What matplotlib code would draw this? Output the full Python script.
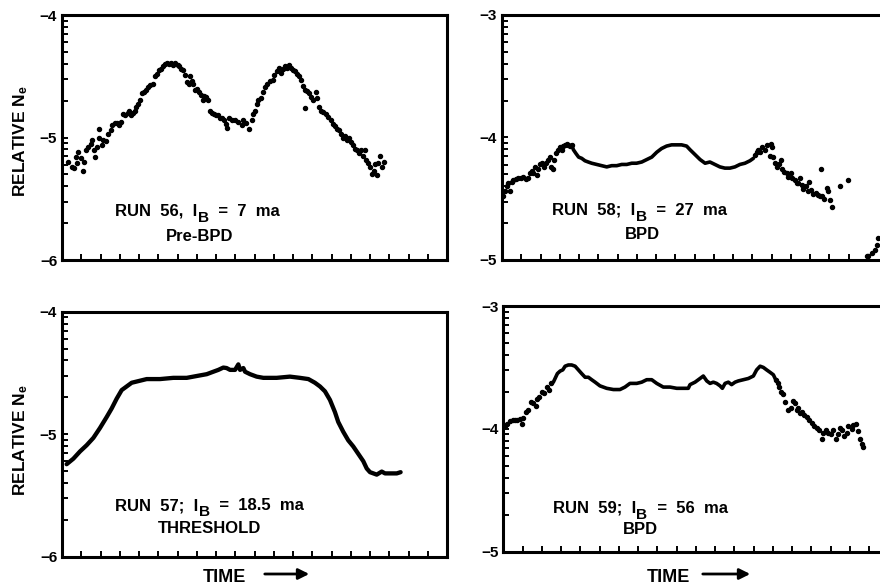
import numpy as np
import matplotlib
matplotlib.use("Agg")
import matplotlib.pyplot as plt

plt.rcParams['font.family'] = ['Liberation Sans', 'DejaVu Sans']
plt.rcParams['font.weight'] = 'bold'
plt.rcParams['mathtext.fontset'] = 'custom'
plt.rcParams['mathtext.rm'] = 'Liberation Sans:bold'
plt.rcParams['mathtext.it'] = 'Liberation Sans:bold'
plt.rcParams['mathtext.bf'] = 'Liberation Sans:bold'

# ---------------- data (log10 of relative Ne vs. time units) ----------------
run56_x = [0.33, 0.51, 0.63, 0.77, 0.71, 0.85, 0.97, 1.08, 1.15, 1.25, 1.37, 1.49, 1.58, 1.67, 1.72,
           1.84, 1.91, 1.94, 2.06, 2.15, 2.29, 2.41, 2.53, 2.62, 2.76, 2.88, 2.98, 3.07, 3.19, 3.29,
           3.42, 3.50, 3.57, 3.67, 3.78, 3.85, 3.95, 4.06, 4.16, 4.26, 4.37, 4.47, 4.58, 4.71, 4.85,
           4.96, 5.06, 5.16, 5.27, 5.37, 5.48, 5.58, 5.68, 5.79, 5.89, 6.00, 6.10, 6.20, 6.31, 6.41,
           6.48, 6.58, 6.65, 6.76, 6.83, 6.91, 7.03, 7.14, 7.24, 7.31, 7.38, 7.48, 7.59, 7.69, 7.80,
           7.90, 8.00, 8.11, 8.21, 8.32, 8.42, 8.52, 8.56, 8.66, 8.83, 8.99, 9.16, 9.33, 9.42, 9.56,
           9.73, 9.85, 9.94, 10.03, 10.11, 10.20, 10.32, 10.42, 10.55, 10.67, 10.81, 10.94, 11.01,
           11.15, 11.26, 11.36, 11.46, 11.58, 11.71, 11.81, 11.91, 12.02, 12.12, 12.22, 12.33, 12.40,
           12.50, 12.61, 12.71, 12.81, 12.61, 12.92, 13.02, 13.19, 13.26, 13.37, 13.47, 13.58, 13.71,
           13.84, 13.96, 14.06, 14.16, 14.27, 14.37, 14.48, 14.58, 14.68, 14.79, 14.89, 15.00, 15.10,
           15.20, 15.31, 15.41, 15.51, 15.62, 15.72, 15.79, 15.90, 16.00, 16.09, 16.21, 16.28, 16.35,
           16.43, 16.52, 16.61, 16.73]
run56_y = [-5.20, -5.24, -5.25, -5.21, -5.16, -5.12, -5.17, -5.27, -5.20, -5.10, -5.08, -5.05, -5.02, -5.10, -5.16,
           -5.08, -4.93, -5.00, -5.06, -5.02, -5.03, -4.97, -4.94, -4.90, -4.88, -4.88, -4.90, -4.87, -4.81, -4.82,
           -4.80, -4.78, -4.82, -4.80, -4.78, -4.75, -4.73, -4.69, -4.64, -4.63, -4.61, -4.59, -4.57, -4.56, -4.50,
           -4.48, -4.45, -4.44, -4.42, -4.40, -4.39, -4.40, -4.39, -4.41, -4.39, -4.41, -4.42, -4.44, -4.45, -4.49,
           -4.55, -4.56, -4.50, -4.54, -4.56, -4.61, -4.60, -4.63, -4.65, -4.69, -4.66, -4.67, -4.69, -4.78, -4.80,
           -4.81, -4.82, -4.82, -4.84, -4.84, -4.86, -4.89, -4.92, -4.84, -4.86, -4.86, -4.87, -4.90, -4.86, -4.88,
           -4.93, -4.86, -4.81, -4.78, -4.73, -4.69, -4.68, -4.63, -4.59, -4.56, -4.54, -4.53, -4.49,
           -4.46, -4.43, -4.47, -4.44, -4.42, -4.43, -4.41, -4.43, -4.45, -4.46, -4.48, -4.50, -4.53,
           -4.58, -4.61, -4.62, -4.64, -4.76, -4.67, -4.69, -4.63, -4.68, -4.75, -4.78, -4.79, -4.81,
           -4.83, -4.86, -4.89, -4.91, -4.93, -4.94, -4.97, -5.00, -4.99, -5.02, -5.00, -5.04, -5.06,
           -5.09, -5.10, -5.13, -5.10, -5.15, -5.10, -5.18, -5.21, -5.24, -5.30, -5.27, -5.22, -5.31,
           -5.21, -5.15, -5.24, -5.20]

run58_scatter_x = [0.07, 0.16, 0.24, 0.33, 0.42, 0.50, 0.59, 0.73, 0.85, 0.97, 1.11, 1.25, 1.37, 1.45, 1.54,
                   1.63, 1.71, 1.80, 1.89, 1.97, 2.06, 2.18, 2.29, 2.41, 2.49, 2.53, 2.63, 2.70, 2.81, 2.93,
                   3.01, 3.10, 3.19, 3.27, 3.36, 3.45, 3.53, 3.62,
                   13.14, 13.23, 13.32, 13.40, 13.52, 13.66, 13.75, 13.97, 14.04, 13.92, 14.09, 14.18, 14.27,
                   14.39, 14.49, 14.56, 14.67, 14.79, 14.87, 15.01, 15.08, 15.22, 15.31, 15.39, 15.48, 15.57,
                   15.65, 15.77, 15.88, 15.95, 16.05, 16.17, 16.29, 16.40, 16.52, 16.57, 16.64, 16.74, 16.86,
                   16.95, 17.04, 17.13, 17.56, 17.99, 18.94, 19.03, 19.20, 19.38, 19.46, 19.51]
run58_scatter_y = [-4.48, -4.44, -4.40, -4.37, -4.44, -4.36, -4.35, -4.34, -4.33, -4.33, -4.32, -4.34, -4.33, -4.29, -4.27,
                   -4.29, -4.24, -4.31, -4.26, -4.22, -4.21, -4.24, -4.21, -4.18, -4.16, -4.24, -4.26, -4.18, -4.13, -4.10,
                   -4.08, -4.10, -4.07, -4.06, -4.05, -4.06, -4.07, -4.06,
                   -4.14, -4.12, -4.10, -4.12, -4.08, -4.10, -4.06, -4.05, -4.08, -4.15, -4.16, -4.21, -4.24,
                   -4.22, -4.18, -4.26, -4.28, -4.29, -4.32, -4.29, -4.33, -4.35, -4.37, -4.37, -4.33, -4.39,
                   -4.42, -4.40, -4.44, -4.36, -4.43, -4.46, -4.45, -4.47, -4.48, -4.26, -4.48, -4.50, -4.41,
                   -4.44, -4.51, -4.57, -4.40, -4.35, -4.97, -4.97, -4.94, -4.92, -4.88, -4.82]
run58_trace_x = [3.62, 3.71, 3.84, 3.98, 4.14, 4.31, 4.48, 4.66, 4.92, 5.18, 5.44, 5.70, 5.96, 6.22, 6.48,
                 6.74, 6.99, 7.26, 7.52, 7.78, 8.04, 8.29, 8.55, 8.81, 9.07, 9.33, 9.59, 9.77, 10.03, 10.29,
                 10.55, 10.80, 11.06, 11.32, 11.58, 11.84, 12.10, 12.36, 12.62, 12.88, 13.06]
run58_trace_y = [-4.06, -4.10, -4.13, -4.16, -4.17, -4.19, -4.20, -4.21, -4.22, -4.23, -4.24, -4.23, -4.23, -4.22, -4.22,
                 -4.21, -4.21, -4.20, -4.18, -4.16, -4.12, -4.09, -4.07, -4.06, -4.06, -4.06, -4.07, -4.10, -4.14, -4.18,
                 -4.21, -4.20, -4.22, -4.24, -4.25, -4.25, -4.24, -4.22, -4.21, -4.19, -4.17]

run57_x = [0.24, 0.59, 0.94, 1.28, 1.63, 1.97, 2.32, 2.58, 2.84, 3.10, 3.36, 3.62, 3.88, 4.40, 5.09,
           5.78, 6.48, 7.17, 7.52, 7.86, 8.12, 8.38, 8.55, 8.73, 8.99, 9.16, 9.25, 9.42, 9.51, 9.77,
           10.11, 10.46, 11.15, 11.84, 12.36, 12.80, 13.14, 13.40, 13.66, 13.92, 14.18, 14.35, 14.61,
           14.87, 15.13, 15.39, 15.65, 15.83, 16.00, 16.35, 16.61, 16.78, 17.04, 17.39, 17.59]
run57_y = [-5.245, -5.20, -5.14, -5.09, -5.03, -4.95, -4.86, -4.79, -4.71, -4.64, -4.61, -4.58, -4.57, -4.55, -4.55,
           -4.54, -4.54, -4.52, -4.51, -4.49, -4.475, -4.456, -4.46, -4.475, -4.475, -4.43, -4.475, -4.46, -4.49, -4.51,
           -4.53, -4.54, -4.54, -4.53, -4.54, -4.55, -4.58, -4.61, -4.65, -4.72, -4.82, -4.90, -4.98,
           -5.05, -5.10, -5.16, -5.22, -5.28, -5.31, -5.33, -5.305, -5.32, -5.32, -5.32, -5.31]

run59_scatter_x = [0.09, 0.21, 0.35, 0.49, 0.61, 0.73, 0.87, 0.96, 1.04, 1.18, 1.30, 1.42, 1.56, 1.70, 1.77,
                   1.87, 1.99, 2.12, 2.25, 2.39, 2.46,
                   14.15, 14.25, 14.34, 14.43, 14.55, 14.63, 14.81, 14.95, 15.07, 15.15, 15.24, 15.33, 15.41,
                   15.54, 15.64, 15.76, 15.88, 16.02, 16.16, 16.28, 16.40, 16.54, 16.63, 16.75, 16.89, 17.02,
                   17.15, 17.27, 17.37, 17.49, 17.58, 17.72, 17.84, 17.92, 18.10, 18.18, 18.31, 18.41, 18.53,
                   18.62, 18.70]
run59_scatter_y = [-3.98, -3.96, -3.94, -3.93, -3.93, -3.93, -3.92, -3.96, -3.91, -3.86, -3.85, -3.78, -3.79, -3.81, -3.76,
                   -3.74, -3.70, -3.71, -3.66, -3.68, -3.63,
                   -3.60, -3.63, -3.66, -3.70, -3.72, -3.78, -3.85, -3.83, -3.77, -3.79, -3.85, -3.83, -3.87,
                   -3.86, -3.89, -3.90, -3.93, -3.95, -3.98, -3.99, -4.01, -4.08, -4.03, -4.01, -4.03, -4.04,
                   -4.01, -4.08, -4.04, -3.99, -4.01, -4.06, -4.03, -3.98, -4.00, -3.97, -3.96, -4.02, -4.08,
                   -4.12, -4.15]
run59_trace_x = [2.60, 2.69, 2.81, 2.95, 3.09, 3.21, 3.38, 3.55, 3.73, 3.90, 4.07, 4.25, 4.42, 4.59, 4.77,
                 5.02, 5.37, 5.72, 6.06, 6.32, 6.58, 6.93, 7.19, 7.45, 7.71, 7.97, 8.31, 8.66, 9.01, 9.35,
                 9.61, 9.70, 9.96, 10.22, 10.39, 10.57, 10.74, 10.91, 11.08, 11.26, 11.38, 11.52, 11.69,
                 11.86, 12.04, 12.21, 12.47, 12.73, 12.99, 13.16, 13.34, 13.51, 13.68, 13.86, 14.03, 14.15]
run59_trace_y = [-3.62, -3.59, -3.55, -3.53, -3.52, -3.49, -3.48, -3.48, -3.49, -3.52, -3.55, -3.58, -3.58, -3.60, -3.62,
                 -3.65, -3.67, -3.68, -3.68, -3.66, -3.63, -3.63, -3.62, -3.60, -3.60, -3.63, -3.66, -3.66, -3.67, -3.67,
                 -3.67, -3.64, -3.62, -3.59, -3.57, -3.61, -3.63, -3.62, -3.63, -3.65, -3.67, -3.63, -3.62,
                 -3.64, -3.62, -3.61, -3.60, -3.59, -3.57, -3.52, -3.49, -3.50, -3.52, -3.54, -3.56, -3.60]

panel_ranges = {"56": (-6, -4), "58": (-5, -3), "57": (-6, -4), "59": (-5, -3)}
tick_labels = {-3: "\u22123", -4: "\u22124", -5: "\u22125", -6: "\u22126"}

# ---------------- figure ----------------
W, H = 880, 586
fig = plt.figure(figsize=(W / 100, H / 100), dpi=100)


def px_axes(left, top, right, bottom):
    return fig.add_axes([left / W, 1 - bottom / H, (right - left) / W, (bottom - top) / H])


def style(ax, ylo, yhi):
    ax.set_xlim(0, 20)
    ax.set_ylim(ylo, yhi)
    for s in ax.spines.values():
        s.set_linewidth(2.2)
        s.set_color('black')
    ax.set_xticks(np.arange(1, 20))
    ax.set_xticklabels([])
    ax.tick_params(axis='x', direction='in', length=4.5, width=1.4, bottom=True, top=False)
    majors = list(range(ylo, yhi + 1))
    ax.set_yticks(majors)
    ax.set_yticklabels([tick_labels[m] for m in majors], fontsize=11, fontweight='bold')
    minors = [d + np.log10(k) for d in range(ylo, yhi) for k in range(2, 10)]
    ax.set_yticks(minors, minor=True)
    ax.tick_params(axis='y', which='both', direction='in', length=4.5, width=1.4,
                   left=True, right=False, pad=3.5)


def label(ax, x0, yb1, xc2, yb2, pre, sub, post, line2, fs=12):
    t1 = ax.text(x0, yb1, pre, transform=ax.transAxes, ha='left', va='baseline',
                 fontsize=fs, fontweight='bold')
    t2 = ax.annotate(sub, xy=(1, 0), xycoords=t1, xytext=(0.2, -4.3),
                     textcoords='offset points', ha='left', va='bottom',
                     fontsize=fs * 0.92, fontweight='bold')
    ax.annotate(post, xy=(1, 0), xycoords=(t2, t1), xytext=(0, 0),
                textcoords='offset points', ha='left', va='bottom',
                fontsize=fs, fontweight='bold')
    ax.text(xc2, yb2, line2, transform=ax.transAxes, ha='center', va='baseline',
            fontsize=fs, fontweight='bold')


dot = dict(ls='none', marker='o', ms=2.9, color='black', mec='black')

# RUN 56
ax1 = px_axes(62, 15, 447, 260)
style(ax1, *panel_ranges["56"])
ax1.plot(run56_x, run56_y, **dot)
label(ax1, 0.138, 0.18, 0.358, 0.079, "RUN  56,  I", "B", "  =  7  ma", "Pre-BPD")

# RUN 58
ax2 = px_axes(502, 15, 887, 260)
style(ax2, *panel_ranges["58"])
ax2.plot(run58_trace_x, run58_trace_y, color='black', lw=2.6, solid_joinstyle='round',
         solid_capstyle='round')
ax2.plot(run58_scatter_x, run58_scatter_y, **dot)
label(ax2, 0.13, 0.184, 0.366, 0.084, "RUN  58;  I", "B", "  =  27  ma", "BPD")

# RUN 57
ax3 = px_axes(62, 311.7, 447, 556.7)
style(ax3, *panel_ranges["57"])
ax3.plot(run57_x, run57_y, color='black', lw=3.1, solid_joinstyle='round', solid_capstyle='round')
label(ax3, 0.138, 0.19, 0.382, 0.095, "RUN  57;  I", "B", "  =  18.5  ma", "THRESHOLD")

# RUN 59
ax4 = px_axes(503.3, 306, 888.3, 551.7)
style(ax4, *panel_ranges["59"])
ax4.plot(run59_trace_x, run59_trace_y, color='black', lw=2.6, solid_joinstyle='round',
         solid_capstyle='round')
ax4.plot(run59_scatter_x, run59_scatter_y, **dot)
label(ax4, 0.129, 0.159, 0.355, 0.072, "RUN  59;  I", "B", "  =  56  ma", "BPD")

# y labels
fig.text(21 / W, 1 - 141 / H, "RELATIVE N$_{e}$", rotation=90, ha='center', va='center',
         fontsize=12.5, fontweight='bold')
fig.text(21 / W, 1 - 440 / H, "RELATIVE N$_{e}$", rotation=90, ha='center', va='center',
         fontsize=12.5, fontweight='bold')

# TIME arrows
for tx, a0, a1 in [(224, 262, 312), (668, 700, 753)]:
    fig.text(tx / W, 1 - 577 / H, "TIME", ha='center', va='center', fontsize=13, fontweight='bold')
    fig.add_artist(matplotlib.patches.FancyArrowPatch(
        (a0 / W, 1 - 574 / H), (a1 / W, 1 - 574 / H), transform=fig.transFigure,
        arrowstyle='-|>', mutation_scale=16, lw=2.0, color='black'))

fig.savefig("out.png", dpi=100)
